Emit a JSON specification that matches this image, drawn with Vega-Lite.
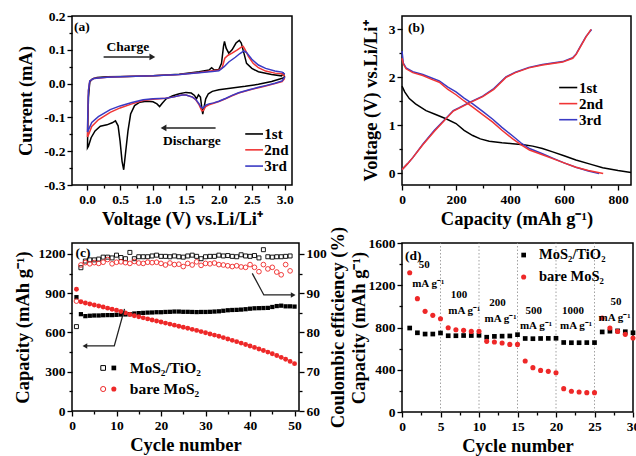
{
"$schema": "https://vega.github.io/schema/vega-lite/v6.json",
"padding": {"left": 12, "top": 8, "right": 0, "bottom": 0},
"columns": 2,
"align": "each",
"spacing": {"row": -4, "column": 0},
"config": {
  "font": "Liberation Serif",
  "view": {"stroke": "#000", "strokeWidth": 1.5},
  "axis": {"grid": false, "domain": false, "labelFont": "Liberation Serif", "labelFontWeight": "bold", "labelFontSize": 13.5, "labelColor": "#000", "titleFont": "Liberation Serif", "titleFontWeight": "bold", "titleFontSize": 18.5, "titleColor": "#000", "tickColor": "#000", "tickWidth": 1.3, "labelPadding": 2, "labelFlush": false, "labelOverlap": false},
  "text": {"font": "Liberation Serif", "fontWeight": "bold", "color": "#000"}
},
"datasets": {
  "cv": [
    {"c":"1st","x":3.0,"y":0.018},{"c":"1st","x":2.9,"y":0.012},{"c":"1st","x":2.8,"y":0.006},{"c":"1st","x":2.6,"y":-0.002},{"c":"1st","x":2.4,"y":-0.008},{"c":"1st","x":2.2,"y":-0.013},{"c":"1st","x":2.0,"y":-0.018},{"c":"1st","x":1.9,"y":-0.023},{"c":"1st","x":1.84,"y":-0.03},{"c":"1st","x":1.8,"y":-0.045},{"c":"1st","x":1.77,"y":-0.075},{"c":"1st","x":1.755,"y":-0.09},{"c":"1st","x":1.74,"y":-0.07},{"c":"1st","x":1.72,"y":-0.04},{"c":"1st","x":1.69,"y":-0.033},{"c":"1st","x":1.66,"y":-0.045},{"c":"1st","x":1.63,"y":-0.035},{"c":"1st","x":1.58,"y":-0.028},{"c":"1st","x":1.5,"y":-0.026},{"c":"1st","x":1.4,"y":-0.03},{"c":"1st","x":1.3,"y":-0.036},{"c":"1st","x":1.2,"y":-0.045},{"c":"1st","x":1.14,"y":-0.058},{"c":"1st","x":1.1,"y":-0.068},{"c":"1st","x":1.06,"y":-0.06},{"c":"1st","x":1.0,"y":-0.054},{"c":"1st","x":0.9,"y":-0.052},{"c":"1st","x":0.8,"y":-0.055},{"c":"1st","x":0.72,"y":-0.065},{"c":"1st","x":0.66,"y":-0.09},{"c":"1st","x":0.62,"y":-0.14},{"c":"1st","x":0.58,"y":-0.21},{"c":"1st","x":0.555,"y":-0.255},{"c":"1st","x":0.53,"y":-0.23},{"c":"1st","x":0.5,"y":-0.17},{"c":"1st","x":0.47,"y":-0.125},{"c":"1st","x":0.43,"y":-0.11},{"c":"1st","x":0.38,"y":-0.116},{"c":"1st","x":0.3,"y":-0.122},{"c":"1st","x":0.2,"y":-0.126},{"c":"1st","x":0.12,"y":-0.14},{"c":"1st","x":0.06,"y":-0.16},{"c":"1st","x":0.02,"y":-0.185},{"c":"1st","x":0.005,"y":-0.19},{"c":"1st","x":0.01,"y":-0.12},{"c":"1st","x":0.02,"y":-0.04},{"c":"1st","x":0.04,"y":0.005},{"c":"1st","x":0.08,"y":0.014},{"c":"1st","x":0.15,"y":0.018},{"c":"1st","x":0.3,"y":0.02},{"c":"1st","x":0.6,"y":0.021},{"c":"1st","x":1.0,"y":0.023},{"c":"1st","x":1.4,"y":0.028},{"c":"1st","x":1.7,"y":0.035},{"c":"1st","x":1.85,"y":0.04},{"c":"1st","x":1.89,"y":0.047},{"c":"1st","x":1.93,"y":0.04},{"c":"1st","x":2.0,"y":0.042},{"c":"1st","x":2.04,"y":0.06},{"c":"1st","x":2.07,"y":0.11},{"c":"1st","x":2.085,"y":0.125},{"c":"1st","x":2.11,"y":0.105},{"c":"1st","x":2.15,"y":0.09},{"c":"1st","x":2.2,"y":0.1},{"c":"1st","x":2.26,"y":0.12},{"c":"1st","x":2.31,"y":0.128},{"c":"1st","x":2.34,"y":0.12},{"c":"1st","x":2.38,"y":0.09},{"c":"1st","x":2.42,"y":0.06},{"c":"1st","x":2.5,"y":0.045},{"c":"1st","x":2.6,"y":0.035},{"c":"1st","x":2.8,"y":0.027},{"c":"1st","x":2.95,"y":0.023},{"c":"1st","x":2.98,"y":0.03},{"c":"1st","x":3.0,"y":0.018},
    {"c":"2nd","x":3.0,"y":0.016},{"c":"2nd","x":2.96,"y":0.006},{"c":"2nd","x":2.85,"y":0.0},{"c":"2nd","x":2.71,"y":-0.007},{"c":"2nd","x":2.6,"y":-0.012},{"c":"2nd","x":2.46,"y":-0.019},{"c":"2nd","x":2.3,"y":-0.028},{"c":"2nd","x":2.2,"y":-0.036},{"c":"2nd","x":2.1,"y":-0.045},{"c":"2nd","x":2.0,"y":-0.053},{"c":"2nd","x":1.92,"y":-0.058},{"c":"2nd","x":1.85,"y":-0.063},{"c":"2nd","x":1.8,"y":-0.068},{"c":"2nd","x":1.76,"y":-0.08},{"c":"2nd","x":1.74,"y":-0.08},{"c":"2nd","x":1.7,"y":-0.063},{"c":"2nd","x":1.65,"y":-0.048},{"c":"2nd","x":1.6,"y":-0.04},{"c":"2nd","x":1.5,"y":-0.034},{"c":"2nd","x":1.44,"y":-0.034},{"c":"2nd","x":1.3,"y":-0.04},{"c":"2nd","x":1.19,"y":-0.043},{"c":"2nd","x":1.0,"y":-0.046},{"c":"2nd","x":0.85,"y":-0.05},{"c":"2nd","x":0.68,"y":-0.06},{"c":"2nd","x":0.5,"y":-0.072},{"c":"2nd","x":0.35,"y":-0.085},{"c":"2nd","x":0.17,"y":-0.107},{"c":"2nd","x":0.07,"y":-0.127},{"c":"2nd","x":0.02,"y":-0.152},{"c":"2nd","x":0.005,"y":-0.158},{"c":"2nd","x":0.01,"y":-0.1},{"c":"2nd","x":0.02,"y":-0.02},{"c":"2nd","x":0.04,"y":0.008},{"c":"2nd","x":0.1,"y":0.015},{"c":"2nd","x":0.3,"y":0.019},{"c":"2nd","x":0.6,"y":0.021},{"c":"2nd","x":1.0,"y":0.023},{"c":"2nd","x":1.4,"y":0.027},{"c":"2nd","x":1.7,"y":0.033},{"c":"2nd","x":1.9,"y":0.038},{"c":"2nd","x":2.0,"y":0.04},{"c":"2nd","x":2.05,"y":0.047},{"c":"2nd","x":2.09,"y":0.075},{"c":"2nd","x":2.14,"y":0.084},{"c":"2nd","x":2.2,"y":0.09},{"c":"2nd","x":2.28,"y":0.1},{"c":"2nd","x":2.34,"y":0.108},{"c":"2nd","x":2.37,"y":0.11},{"c":"2nd","x":2.4,"y":0.1},{"c":"2nd","x":2.45,"y":0.08},{"c":"2nd","x":2.52,"y":0.06},{"c":"2nd","x":2.6,"y":0.047},{"c":"2nd","x":2.71,"y":0.037},{"c":"2nd","x":2.85,"y":0.031},{"c":"2nd","x":2.96,"y":0.029},{"c":"2nd","x":3.0,"y":0.022},
    {"c":"3rd","x":3.0,"y":0.02},{"c":"3rd","x":2.96,"y":0.008},{"c":"3rd","x":2.85,"y":0.001},{"c":"3rd","x":2.71,"y":-0.006},{"c":"3rd","x":2.6,"y":-0.011},{"c":"3rd","x":2.46,"y":-0.018},{"c":"3rd","x":2.3,"y":-0.027},{"c":"3rd","x":2.2,"y":-0.035},{"c":"3rd","x":2.1,"y":-0.044},{"c":"3rd","x":2.0,"y":-0.052},{"c":"3rd","x":1.92,"y":-0.057},{"c":"3rd","x":1.85,"y":-0.06},{"c":"3rd","x":1.8,"y":-0.064},{"c":"3rd","x":1.76,"y":-0.072},{"c":"3rd","x":1.73,"y":-0.07},{"c":"3rd","x":1.7,"y":-0.06},{"c":"3rd","x":1.65,"y":-0.047},{"c":"3rd","x":1.6,"y":-0.04},{"c":"3rd","x":1.5,"y":-0.034},{"c":"3rd","x":1.44,"y":-0.034},{"c":"3rd","x":1.3,"y":-0.04},{"c":"3rd","x":1.19,"y":-0.043},{"c":"3rd","x":1.0,"y":-0.045},{"c":"3rd","x":0.85,"y":-0.048},{"c":"3rd","x":0.68,"y":-0.056},{"c":"3rd","x":0.5,"y":-0.066},{"c":"3rd","x":0.35,"y":-0.077},{"c":"3rd","x":0.17,"y":-0.098},{"c":"3rd","x":0.07,"y":-0.115},{"c":"3rd","x":0.02,"y":-0.137},{"c":"3rd","x":0.005,"y":-0.143},{"c":"3rd","x":0.01,"y":-0.09},{"c":"3rd","x":0.02,"y":-0.02},{"c":"3rd","x":0.04,"y":0.008},{"c":"3rd","x":0.1,"y":0.015},{"c":"3rd","x":0.3,"y":0.019},{"c":"3rd","x":0.6,"y":0.021},{"c":"3rd","x":1.0,"y":0.023},{"c":"3rd","x":1.4,"y":0.027},{"c":"3rd","x":1.7,"y":0.032},{"c":"3rd","x":1.9,"y":0.036},{"c":"3rd","x":2.0,"y":0.038},{"c":"3rd","x":2.08,"y":0.05},{"c":"3rd","x":2.15,"y":0.064},{"c":"3rd","x":2.25,"y":0.078},{"c":"3rd","x":2.32,"y":0.089},{"c":"3rd","x":2.38,"y":0.097},{"c":"3rd","x":2.42,"y":0.092},{"c":"3rd","x":2.5,"y":0.072},{"c":"3rd","x":2.6,"y":0.055},{"c":"3rd","x":2.71,"y":0.045},{"c":"3rd","x":2.85,"y":0.037},{"c":"3rd","x":2.96,"y":0.034},{"c":"3rd","x":3.0,"y":0.028}
  ],
  "gc": [
    {"c":"1st","k":"d","x":0,"y":1.82},{"c":"1st","k":"d","x":10,"y":1.7},{"c":"1st","k":"d","x":27,"y":1.56},{"c":"1st","k":"d","x":50,"y":1.45},{"c":"1st","k":"d","x":89,"y":1.31},{"c":"1st","k":"d","x":120,"y":1.24},{"c":"1st","k":"d","x":163,"y":1.14},{"c":"1st","k":"d","x":200,"y":1.04},{"c":"1st","k":"d","x":230,"y":0.9},{"c":"1st","k":"d","x":262,"y":0.79},{"c":"1st","k":"d","x":290,"y":0.72},{"c":"1st","k":"d","x":323,"y":0.67},{"c":"1st","k":"d","x":370,"y":0.64},{"c":"1st","k":"d","x":410,"y":0.62},{"c":"1st","k":"d","x":450,"y":0.6},{"c":"1st","k":"d","x":484,"y":0.57},{"c":"1st","k":"d","x":520,"y":0.52},{"c":"1st","k":"d","x":558,"y":0.45},{"c":"1st","k":"d","x":600,"y":0.37},{"c":"1st","k":"d","x":644,"y":0.28},{"c":"1st","k":"d","x":700,"y":0.19},{"c":"1st","k":"d","x":743,"y":0.12},{"c":"1st","k":"d","x":800,"y":0.06},{"c":"1st","k":"d","x":848,"y":0.02},
    {"c":"3rd","k":"d","x":0,"y":2.55},{"c":"3rd","k":"d","x":5,"y":2.3},{"c":"3rd","k":"d","x":15,"y":2.2},{"c":"3rd","k":"d","x":40,"y":2.12},{"c":"3rd","k":"d","x":77,"y":2.06},{"c":"3rd","k":"d","x":110,"y":1.99},{"c":"3rd","k":"d","x":138,"y":1.93},{"c":"3rd","k":"d","x":170,"y":1.8},{"c":"3rd","k":"d","x":200,"y":1.7},{"c":"3rd","k":"d","x":230,"y":1.57},{"c":"3rd","k":"d","x":262,"y":1.45},{"c":"3rd","k":"d","x":300,"y":1.29},{"c":"3rd","k":"d","x":336,"y":1.13},{"c":"3rd","k":"d","x":370,"y":0.96},{"c":"3rd","k":"d","x":410,"y":0.78},{"c":"3rd","k":"d","x":440,"y":0.64},{"c":"3rd","k":"d","x":472,"y":0.52},{"c":"3rd","k":"d","x":520,"y":0.41},{"c":"3rd","k":"d","x":558,"y":0.32},{"c":"3rd","k":"d","x":600,"y":0.22},{"c":"3rd","k":"d","x":644,"y":0.13},{"c":"3rd","k":"d","x":690,"y":0.05},{"c":"3rd","k":"d","x":730,"y":0.0},
    {"c":"2nd","k":"d","x":0,"y":2.4},{"c":"2nd","k":"d","x":5,"y":2.28},{"c":"2nd","k":"d","x":15,"y":2.18},{"c":"2nd","k":"d","x":40,"y":2.1},{"c":"2nd","k":"d","x":77,"y":2.04},{"c":"2nd","k":"d","x":110,"y":1.96},{"c":"2nd","k":"d","x":138,"y":1.9},{"c":"2nd","k":"d","x":170,"y":1.75},{"c":"2nd","k":"d","x":200,"y":1.64},{"c":"2nd","k":"d","x":230,"y":1.51},{"c":"2nd","k":"d","x":262,"y":1.38},{"c":"2nd","k":"d","x":300,"y":1.22},{"c":"2nd","k":"d","x":336,"y":1.07},{"c":"2nd","k":"d","x":370,"y":0.9},{"c":"2nd","k":"d","x":410,"y":0.72},{"c":"2nd","k":"d","x":440,"y":0.6},{"c":"2nd","k":"d","x":472,"y":0.49},{"c":"2nd","k":"d","x":520,"y":0.39},{"c":"2nd","k":"d","x":558,"y":0.31},{"c":"2nd","k":"d","x":600,"y":0.22},{"c":"2nd","k":"d","x":644,"y":0.13},{"c":"2nd","k":"d","x":690,"y":0.06},{"c":"2nd","k":"d","x":745,"y":0.0},
    {"c":"3rd","k":"c","x":0,"y":0.08},{"c":"3rd","k":"c","x":20,"y":0.2},{"c":"3rd","k":"c","x":40,"y":0.33},{"c":"3rd","k":"c","x":77,"y":0.61},{"c":"3rd","k":"c","x":120,"y":0.9},{"c":"3rd","k":"c","x":163,"y":1.15},{"c":"3rd","k":"c","x":190,"y":1.31},{"c":"3rd","k":"c","x":212,"y":1.37},{"c":"3rd","k":"c","x":250,"y":1.48},{"c":"3rd","k":"c","x":299,"y":1.61},{"c":"3rd","k":"c","x":340,"y":1.77},{"c":"3rd","k":"c","x":385,"y":2.01},{"c":"3rd","k":"c","x":420,"y":2.11},{"c":"3rd","k":"c","x":470,"y":2.21},{"c":"3rd","k":"c","x":520,"y":2.27},{"c":"3rd","k":"c","x":595,"y":2.33},{"c":"3rd","k":"c","x":632,"y":2.41},{"c":"3rd","k":"c","x":645,"y":2.49},{"c":"3rd","k":"c","x":660,"y":2.64},{"c":"3rd","k":"c","x":681,"y":2.85},{"c":"3rd","k":"c","x":702,"y":3.0},
    {"c":"2nd","k":"c","x":0,"y":0.08},{"c":"2nd","k":"c","x":20,"y":0.2},{"c":"2nd","k":"c","x":40,"y":0.33},{"c":"2nd","k":"c","x":77,"y":0.6},{"c":"2nd","k":"c","x":120,"y":0.88},{"c":"2nd","k":"c","x":163,"y":1.14},{"c":"2nd","k":"c","x":190,"y":1.3},{"c":"2nd","k":"c","x":212,"y":1.36},{"c":"2nd","k":"c","x":250,"y":1.47},{"c":"2nd","k":"c","x":299,"y":1.6},{"c":"2nd","k":"c","x":340,"y":1.75},{"c":"2nd","k":"c","x":385,"y":2.0},{"c":"2nd","k":"c","x":420,"y":2.1},{"c":"2nd","k":"c","x":470,"y":2.2},{"c":"2nd","k":"c","x":520,"y":2.26},{"c":"2nd","k":"c","x":595,"y":2.32},{"c":"2nd","k":"c","x":632,"y":2.4},{"c":"2nd","k":"c","x":645,"y":2.48},{"c":"2nd","k":"c","x":660,"y":2.63},{"c":"2nd","k":"c","x":681,"y":2.84},{"c":"2nd","k":"c","x":700,"y":3.0}
  ],
  "capT": [{"x":1,"y":870},{"x":2,"y":740},{"x":3,"y":725},{"x":4,"y":728},{"x":5,"y":730},{"x":6,"y":730},{"x":7,"y":732},{"x":8,"y":733},{"x":9,"y":733},{"x":10,"y":735},{"x":11,"y":737},{"x":12,"y":738},{"x":13,"y":740},{"x":14,"y":745},{"x":15,"y":748},{"x":16,"y":750},{"x":17,"y":752},{"x":18,"y":753},{"x":19,"y":755},{"x":20,"y":755},{"x":21,"y":757},{"x":22,"y":758},{"x":23,"y":760},{"x":24,"y":760},{"x":25,"y":758},{"x":26,"y":758},{"x":27,"y":757},{"x":28,"y":756},{"x":29,"y":757},{"x":30,"y":757},{"x":31,"y":758},{"x":32,"y":760},{"x":33,"y":762},{"x":34,"y":766},{"x":35,"y":770},{"x":36,"y":772},{"x":37,"y":773},{"x":38,"y":775},{"x":39,"y":778},{"x":40,"y":782},{"x":41,"y":785},{"x":42,"y":786},{"x":43,"y":787},{"x":44,"y":788},{"x":45,"y":795},{"x":46,"y":802},{"x":47,"y":805},{"x":48,"y":800},{"x":49,"y":800},{"x":50,"y":798}],
  "capB": [{"x":1,"y":930},{"x":2,"y":835},{"x":3,"y":825},{"x":4,"y":818},{"x":5,"y":810},{"x":6,"y":802},{"x":7,"y":795},{"x":8,"y":786},{"x":9,"y":778},{"x":10,"y":770},{"x":11,"y":760},{"x":12,"y":750},{"x":13,"y":738},{"x":14,"y":728},{"x":15,"y":720},{"x":16,"y":712},{"x":17,"y":704},{"x":18,"y":696},{"x":19,"y":688},{"x":20,"y":680},{"x":21,"y":672},{"x":22,"y":664},{"x":23,"y":656},{"x":24,"y":648},{"x":25,"y":640},{"x":26,"y":632},{"x":27,"y":624},{"x":28,"y":616},{"x":29,"y":607},{"x":30,"y":598},{"x":31,"y":589},{"x":32,"y":580},{"x":33,"y":571},{"x":34,"y":561},{"x":35,"y":550},{"x":36,"y":540},{"x":37,"y":530},{"x":38,"y":519},{"x":39,"y":508},{"x":40,"y":497},{"x":41,"y":486},{"x":42,"y":474},{"x":43,"y":462},{"x":44,"y":450},{"x":45,"y":438},{"x":46,"y":424},{"x":47,"y":410},{"x":48,"y":395},{"x":49,"y":379},{"x":50,"y":362}],
  "effT": [{"x":1,"y":81.5},{"x":2,"y":96.5},{"x":3,"y":98.2},{"x":4,"y":98.5},{"x":5,"y":98.5},{"x":6,"y":98.7},{"x":7,"y":99.2},{"x":8,"y":99.2},{"x":9,"y":99.0},{"x":10,"y":99.7},{"x":11,"y":99.1},{"x":12,"y":98.8},{"x":13,"y":100.4},{"x":14,"y":98.8},{"x":15,"y":99.3},{"x":16,"y":99.3},{"x":17,"y":99.3},{"x":18,"y":99.5},{"x":19,"y":99.7},{"x":20,"y":99.4},{"x":21,"y":99.4},{"x":22,"y":99.3},{"x":23,"y":99.5},{"x":24,"y":99.3},{"x":25,"y":99.2},{"x":26,"y":99.5},{"x":27,"y":99.7},{"x":28,"y":99.4},{"x":29,"y":98.8},{"x":30,"y":99.3},{"x":31,"y":99.4},{"x":32,"y":99.4},{"x":33,"y":99.7},{"x":34,"y":99.5},{"x":35,"y":99.6},{"x":36,"y":99.4},{"x":37,"y":99.3},{"x":38,"y":99.8},{"x":39,"y":99.5},{"x":40,"y":99.4},{"x":41,"y":99.6},{"x":42,"y":99.0},{"x":43,"y":101.1},{"x":44,"y":99.3},{"x":45,"y":99.2},{"x":46,"y":99.3},{"x":47,"y":99.3},{"x":48,"y":99.4},{"x":49,"y":99.5}],
  "effB": [{"x":1,"y":88.0},{"x":2,"y":97.2},{"x":3,"y":97.8},{"x":4,"y":97.5},{"x":5,"y":97.8},{"x":6,"y":97.6},{"x":7,"y":97.9},{"x":8,"y":98.6},{"x":9,"y":97.5},{"x":10,"y":97.9},{"x":11,"y":98.0},{"x":12,"y":97.8},{"x":13,"y":97.6},{"x":14,"y":98.1},{"x":15,"y":97.7},{"x":16,"y":97.6},{"x":17,"y":97.9},{"x":18,"y":97.8},{"x":19,"y":97.9},{"x":20,"y":97.6},{"x":21,"y":97.2},{"x":22,"y":97.7},{"x":23,"y":97.3},{"x":24,"y":97.4},{"x":25,"y":96.8},{"x":26,"y":97.6},{"x":27,"y":97.2},{"x":28,"y":98.0},{"x":29,"y":97.1},{"x":30,"y":97.6},{"x":31,"y":97.5},{"x":32,"y":97.7},{"x":33,"y":97.3},{"x":34,"y":97.2},{"x":35,"y":97.0},{"x":36,"y":96.8},{"x":37,"y":97.0},{"x":38,"y":96.7},{"x":39,"y":96.6},{"x":40,"y":97.3},{"x":41,"y":96.6},{"x":42,"y":95.5},{"x":43,"y":97.3},{"x":44,"y":96.2},{"x":45,"y":96.6},{"x":46,"y":95.4},{"x":47,"y":94.7},{"x":48,"y":97.3},{"x":49,"y":95.7}],
  "rateT": [{"x":1,"y":795},{"x":2,"y":750},{"x":3,"y":738},{"x":4,"y":738},{"x":5,"y":748},{"x":6,"y":722},{"x":7,"y":722},{"x":8,"y":724},{"x":9,"y":724},{"x":10,"y":726},{"x":11,"y":708},{"x":12,"y":716},{"x":13,"y":718},{"x":14,"y":720},{"x":15,"y":732},{"x":16,"y":696},{"x":17,"y":694},{"x":18,"y":696},{"x":19,"y":697},{"x":20,"y":698},{"x":21,"y":658},{"x":22,"y":656},{"x":23,"y":656},{"x":24,"y":657},{"x":25,"y":657},{"x":26,"y":758},{"x":27,"y":765},{"x":28,"y":768},{"x":29,"y":760},{"x":30,"y":750}],
  "rateB": [{"x":1,"y":1319},{"x":2,"y":1073},{"x":3,"y":953},{"x":4,"y":915},{"x":5,"y":883},{"x":6,"y":798},{"x":7,"y":779},{"x":8,"y":773},{"x":9,"y":763},{"x":10,"y":763},{"x":11,"y":669},{"x":12,"y":663},{"x":13,"y":653},{"x":14,"y":640},{"x":15,"y":640},{"x":16,"y":483},{"x":17,"y":420},{"x":18,"y":394},{"x":19,"y":385},{"x":20,"y":372},{"x":21,"y":221},{"x":22,"y":196},{"x":23,"y":189},{"x":24,"y":183},{"x":25,"y":183},{"x":26,"y":890},{"x":27,"y":795},{"x":28,"y":763},{"x":29,"y":735},{"x":30,"y":700}]
},
"concat": [
  {
    "width": 220, "height": 169,
    "encoding": {
      "x": {"field": "x", "type": "quantitative", "scale": {"domain": [-0.23, 3.11], "nice": false, "zero": false},
        "axis": {"title": "Voltage (V) vs.Li/Li⁺", "titlePadding": 4, "values": [0,0.25,0.5,0.75,1,1.25,1.5,1.75,2,2.25,2.5,2.75,3], "labelExpr": "round(datum.value*4)%2==0 ? format(datum.value,'.1f') : ''", "tickSize": {"condition": {"test": "round(datum.value*4)%2==0", "value": 5}, "value": 3}}},
      "y": {"field": "y", "type": "quantitative", "scale": {"domain": [-0.3, 0.2], "nice": false, "zero": false},
        "axis": {"title": "Current (mA)", "titlePadding": 8, "values": [-0.3,-0.25,-0.2,-0.15,-0.1,-0.05,0,0.05,0.1,0.15,0.2], "labelExpr": "round(datum.value*20)%2==0 ? replace(format(datum.value,'.1f'),'−','-') : ''", "tickSize": {"condition": {"test": "round(datum.value*20)%2==0", "value": 5}, "value": 3}}}
    },
    "layer": [
      {"data": {"name": "cv"}, "mark": {"type": "line", "strokeWidth": 1.5},
       "encoding": {"color": {"field": "c", "type": "nominal", "scale": {"domain": ["1st","2nd","3rd"], "range": ["#000000","#f03535","#3a3ac4"]}, "legend": null}, "order": {"value": null}}},
      {"data": {"values": [{"x":0.25,"x2":0.95,"y":0.079},{"x":1.95,"x2":1.2,"y":-0.131}]}, "mark": {"type": "rule", "strokeWidth": 1.5, "color": "#222"}, "encoding": {"x2": {"field": "x2"}}},
      {"data": {"values": [{"x":0.99,"y":0.079}]}, "mark": {"type": "point", "shape": "triangle-right", "filled": true, "color": "#222", "size": 45, "opacity": 1}, "encoding": {}},
      {"data": {"values": [{"x":1.16,"y":-0.131}]}, "mark": {"type": "point", "shape": "triangle-left", "filled": true, "color": "#222", "size": 45, "opacity": 1}, "encoding": {}},
      {"data": {"values": [{"x":0.62,"y":0.109,"t":"Charge"},{"x":1.59,"y":-0.17,"t":"Discharge"}]}, "mark": {"type": "text", "fontSize": 13.5, "align": "center", "baseline": "middle"}, "encoding": {"text": {"field": "t"}}},
      {"data": {"values": [{"x":-0.2,"y":0.168,"t":"(a)"}]}, "mark": {"type": "text", "fontSize": 13.5, "align": "left", "baseline": "middle"}, "encoding": {"text": {"field": "t"}}},
      {"data": {"values": [{"x":2.40,"x2":2.67,"y":-0.149,"c":"1st"},{"x":2.40,"x2":2.67,"y":-0.196,"c":"2nd"},{"x":2.40,"x2":2.67,"y":-0.244,"c":"3rd"}]}, "mark": {"type": "rule", "strokeWidth": 1.6}, "encoding": {"x2": {"field": "x2"}, "color": {"field": "c", "type": "nominal", "legend": null}}},
      {"data": {"values": [{"x":2.69,"y":-0.149,"t":"1st"},{"x":2.69,"y":-0.196,"t":"2nd"},{"x":2.69,"y":-0.244,"t":"3rd"}]}, "mark": {"type": "text", "fontSize": 15, "align": "left", "baseline": "middle"}, "encoding": {"text": {"field": "t"}}}
    ]
  },
  {
    "width": 229, "height": 169,
    "encoding": {
      "x": {"field": "x", "type": "quantitative", "scale": {"domain": [0, 848], "nice": false, "zero": false},
        "axis": {"title": "Capacity (mAh g⁻¹)", "titlePadding": 4, "values": [0,100,200,300,400,500,600,700,800], "labelExpr": "datum.value%200==0 ? format(datum.value,'d') : ''", "tickSize": {"condition": {"test": "datum.value%200==0", "value": 5}, "value": 3}}},
      "y": {"field": "y", "type": "quantitative", "scale": {"domain": [-0.24, 3.28], "nice": false, "zero": false},
        "axis": {"title": "Voltage (V) vs.Li/Li⁺", "titlePadding": 8, "values": [0,0.5,1,1.5,2,2.5,3], "labelExpr": "datum.value%1==0 ? format(datum.value,'d') : ''", "tickSize": {"condition": {"test": "datum.value%1==0", "value": 5}, "value": 3}}}
    },
    "layer": [
      {"data": {"name": "gc"}, "mark": {"type": "line", "strokeWidth": 1.5},
       "encoding": {"color": {"field": "c", "type": "nominal", "scale": {"domain": ["1st","2nd","3rd"], "range": ["#000000","#f03535","#3a3ac4"]}, "legend": null}, "detail": {"field": "k"}, "order": {"value": null}}},
      {"data": {"values": [{"x":22,"y":3.04,"t":"(b)"}]}, "mark": {"type": "text", "fontSize": 13.5, "align": "left", "baseline": "middle"}, "encoding": {"text": {"field": "t"}}},
      {"data": {"values": [{"x":582,"x2":649,"y":1.79,"c":"1st"},{"x":582,"x2":649,"y":1.455,"c":"2nd"},{"x":582,"x2":649,"y":1.12,"c":"3rd"}]}, "mark": {"type": "rule", "strokeWidth": 1.6}, "encoding": {"x2": {"field": "x2"}, "color": {"field": "c", "type": "nominal", "legend": null}}},
      {"data": {"values": [{"x":655,"y":1.79,"t":"1st"},{"x":655,"y":1.455,"t":"2nd"},{"x":655,"y":1.12,"t":"3rd"}]}, "mark": {"type": "text", "fontSize": 15, "align": "left", "baseline": "middle"}, "encoding": {"text": {"field": "t"}}}
    ]
  },
  {
    "width": 227, "height": 168,
    "encoding": {
      "x": {"field": "x", "type": "quantitative", "scale": {"domain": [0, 51], "nice": false, "zero": false},
        "axis": {"title": "Cycle number", "titlePadding": 4, "values": [0,5,10,15,20,25,30,35,40,45,50], "labelExpr": "datum.value%10==0 ? format(datum.value,'d') : ''", "tickSize": {"condition": {"test": "datum.value%10==0", "value": 5}, "value": 3}}}
    },
    "layer": [
      {
        "encoding": {"y": {"field": "y", "type": "quantitative", "scale": {"domain": [0, 1284], "nice": false, "zero": false},
          "axis": {"title": "Capacity (mAh g⁻¹)", "titlePadding": 6, "values": [0,150,300,450,600,750,900,1050,1200], "labelExpr": "datum.value%300==0 ? format(datum.value,'d') : ''", "tickSize": {"condition": {"test": "datum.value%300==0", "value": 5}, "value": 3}}}},
        "layer": [
          {"data": {"name": "capT"}, "mark": {"type": "point", "shape": "square", "filled": true, "color": "#000", "size": 18, "opacity": 1}},
          {"data": {"name": "capB"}, "mark": {"type": "point", "shape": "circle", "filled": true, "color": "#ee2828", "size": 24, "opacity": 1}},
          {"data": {"values": [{"x":11.8,"y":780,"g":"l"},{"x":9.5,"y":497,"g":"l"},{"x":3.3,"y":497,"g":"l"},{"x":40.5,"y":1052,"g":"r"},{"x":43.1,"y":887,"g":"r"},{"x":49.2,"y":887,"g":"r"}]}, "mark": {"type": "line", "strokeWidth": 1.3, "color": "#222"}, "encoding": {"detail": {"field": "g"}, "order": {"value": null}}},
          {"data": {"values": [{"x":2.9,"y":497}]}, "mark": {"type": "point", "shape": "triangle-left", "filled": true, "color": "#222", "size": 30, "opacity": 1}, "encoding": {}},
          {"data": {"values": [{"x":49.7,"y":887}]}, "mark": {"type": "point", "shape": "triangle-right", "filled": true, "color": "#222", "size": 30, "opacity": 1}, "encoding": {}},
          {"data": {"values": [{"x":7.0,"y":329}]}, "mark": {"type": "point", "shape": "square", "filled": false, "color": "#000", "size": 22, "strokeWidth": 1, "opacity": 1}, "encoding": {}},
          {"data": {"values": [{"x":9.4,"y":329}]}, "mark": {"type": "point", "shape": "square", "filled": true, "color": "#000", "size": 22, "opacity": 1}, "encoding": {}},
          {"data": {"values": [{"x":7.0,"y":168}]}, "mark": {"type": "point", "shape": "circle", "filled": false, "color": "#ee2828", "size": 26, "strokeWidth": 1, "opacity": 1}, "encoding": {}},
          {"data": {"values": [{"x":9.4,"y":168}]}, "mark": {"type": "point", "shape": "circle", "filled": true, "color": "#ee2828", "size": 26, "opacity": 1}, "encoding": {}},
          {"data": {"values": [{"x":13.0,"y":329,"t":"MoS₂/TiO₂"},{"x":13.0,"y":168,"t":"bare MoS₂"}]}, "mark": {"type": "text", "fontSize": 15.5, "align": "left", "baseline": "middle"}, "encoding": {"text": {"field": "t"}}},
          {"data": {"values": [{"x":0.8,"y":1205,"t":"(c)"}]}, "mark": {"type": "text", "fontSize": 13.5, "align": "left", "baseline": "middle"}, "encoding": {"text": {"field": "t"}}}
        ]
      },
      {
        "encoding": {"y": {"field": "y", "type": "quantitative", "scale": {"domain": [60, 102.8], "nice": false, "zero": false},
          "axis": {"title": "Coulombic efficiency (%)", "orient": "right", "titleAngle": 270, "titleBaseline": "top", "titlePadding": 2, "values": [60,65,70,75,80,85,90,95,100], "labelExpr": "datum.value%10==0 ? format(datum.value,'d') : ''", "tickSize": {"condition": {"test": "datum.value%10==0", "value": 5}, "value": 3}}}},
        "layer": [
          {"data": {"name": "effT"}, "mark": {"type": "point", "shape": "square", "filled": false, "color": "#000", "size": 16, "strokeWidth": 0.9, "opacity": 1}},
          {"data": {"name": "effB"}, "mark": {"type": "point", "shape": "circle", "filled": false, "color": "#ee2828", "size": 22, "strokeWidth": 0.9, "opacity": 1}}
        ]
      }
    ],
    "resolve": {"scale": {"y": "independent"}, "axis": {"y": "independent"}}
  },
  {
    "width": 231, "height": 169,
    "encoding": {
      "x": {"field": "x", "type": "quantitative", "scale": {"domain": [0, 30], "nice": false, "zero": false},
        "axis": {"title": "Cycle number", "titlePadding": 4, "values": [0,2.5,5,7.5,10,12.5,15,17.5,20,22.5,25,27.5,30], "labelExpr": "datum.value%5==0 ? format(datum.value,'d') : ''", "tickSize": {"condition": {"test": "datum.value%5==0", "value": 5}, "value": 3}}},
      "y": {"field": "y", "type": "quantitative", "scale": {"domain": [0, 1600], "nice": false, "zero": false},
        "axis": {"title": "Capacity (mAh g⁻¹)", "titlePadding": 0, "values": [0,200,400,600,800,1000,1200,1400,1600], "labelExpr": "datum.value%400==0 ? format(datum.value,'d') : ''", "tickSize": {"condition": {"test": "datum.value%400==0", "value": 5}, "value": 3}}}
    },
    "layer": [
      {"data": {"values": [{"x":5,"y":0,"y2":1600},{"x":10,"y":0,"y2":1600},{"x":15,"y":0,"y2":1600},{"x":20,"y":0,"y2":1600},{"x":25,"y":0,"y2":1600}]}, "mark": {"type": "rule", "strokeWidth": 0.8, "color": "#8a8a8a", "strokeDash": [1.5, 2]}, "encoding": {"y2": {"field": "y2"}}},
      {"data": {"name": "rateT"}, "mark": {"type": "point", "shape": "square", "filled": true, "color": "#000", "size": 22, "opacity": 1}},
      {"data": {"name": "rateB"}, "mark": {"type": "point", "shape": "circle", "filled": true, "color": "#ee2828", "size": 26, "opacity": 1}},
      {"data": {"values": [{"x":2.9,"y":1392,"t":"50"},{"x":3.4,"y":1212,"t":"mA g⁻¹"},{"x":7.4,"y":1108,"t":"100"},{"x":8.1,"y":956,"t":"mA g⁻¹"},{"x":12.4,"y":1032,"t":"200"},{"x":12.8,"y":880,"t":"mA g⁻¹"},{"x":17.1,"y":956,"t":"500"},{"x":17.4,"y":814,"t":"mA g⁻¹"},{"x":22.2,"y":956,"t":"1000"},{"x":22.6,"y":814,"t":"mA g⁻¹"},{"x":27.8,"y":1041,"t":"50"},{"x":27.6,"y":890,"t":"mA g⁻¹"}]}, "mark": {"type": "text", "fontSize": 11, "align": "center", "baseline": "middle"}, "encoding": {"text": {"field": "t"}}},
      {"data": {"values": [{"x":15.8,"y":1486}]}, "mark": {"type": "point", "shape": "square", "filled": true, "color": "#000", "size": 22, "opacity": 1}, "encoding": {}},
      {"data": {"values": [{"x":15.8,"y":1278}]}, "mark": {"type": "point", "shape": "circle", "filled": true, "color": "#ee2828", "size": 26, "opacity": 1}, "encoding": {}},
      {"data": {"values": [{"x":17.8,"y":1486,"t":"MoS₂/TiO₂"},{"x":17.8,"y":1278,"t":"bare MoS₂"}]}, "mark": {"type": "text", "fontSize": 14.5, "align": "left", "baseline": "middle"}, "encoding": {"text": {"field": "t"}}},
      {"data": {"values": [{"x":0.4,"y":1480,"t":"(d)"}]}, "mark": {"type": "text", "fontSize": 13.5, "align": "left", "baseline": "middle"}, "encoding": {"text": {"field": "t"}}}
    ]
  }
]
}
